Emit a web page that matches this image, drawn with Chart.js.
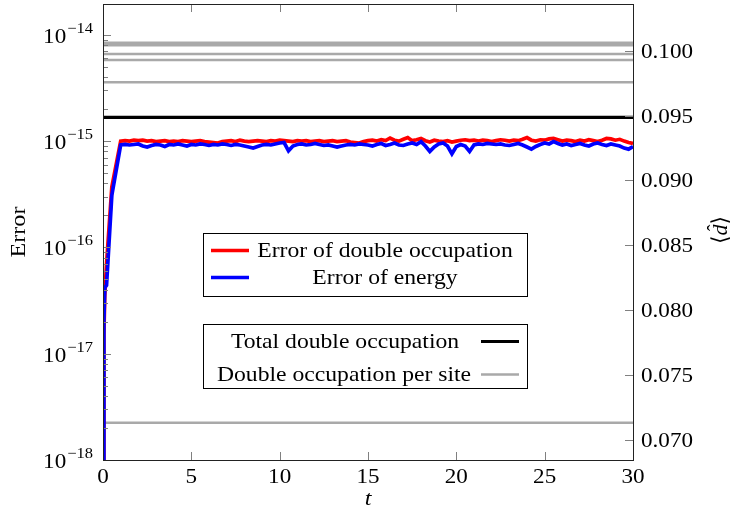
<!DOCTYPE html>
<html>
<head>
<meta charset="utf-8">
<script src="https://cdn.jsdelivr.net/npm/chart.js@4.4.1/dist/chart.umd.min.js"></script>
<style>
  html, body { margin: 0; padding: 0; background: #fff; }
  #wrap { width: 732px; height: 510px; position: relative; }
</style>
</head>
<body>
<div id="wrap"><canvas id="chart" width="732" height="510"></canvas></div>
<script>
// ---- data ----
// early rise, t and error values in units of 1e-15
const riseT = [0, 0.05, 0.1, 0.2, 0.5, 1.0];
const riseDouble = [0.0005, 0.015, 0.035, 0.07, 0.37, 1.0];
const riseEnergy = [0.0005, 0.02, 0.042, 0.044, 0.31, 0.92];

// plateau: t = 1.25, 1.5, ... 30 (step 0.25), units of 1e-15
const plateauStart = 1.25;
const plateauStep = 0.25;
const errDouble = [
  1.01, 1.00, 1.02, 1.01,  1.02, 1.00, 1.01, 0.99,  1.00, 1.01, 0.99, 1.00,
  0.99, 1.01, 1.00, 0.99,  1.00, 1.01, 0.99, 0.98,  0.97, 0.96, 0.99, 1.00,
  1.01, 0.99, 1.02, 1.00,  0.99, 1.00, 1.01, 1.00,  0.99, 1.01, 1.00, 1.02,
  1.01, 1.00, 0.99, 1.01,  1.00, 1.01, 0.99, 1.00,  1.01, 0.99, 1.00, 1.01,
  0.99, 1.00, 1.01, 0.98,  0.97, 0.96, 0.99, 1.01,  1.02, 1.00, 1.03, 1.01,
  1.07, 1.02, 1.00, 1.04,  1.08, 1.01, 1.03, 1.06,  1.01, 0.98, 1.02, 1.00,
  0.99, 1.01, 0.98, 1.00,  1.02, 1.03, 1.01, 1.02,  1.00, 1.02, 1.01, 0.99,
  1.01, 1.03, 1.02, 1.00,  1.02, 1.01, 1.04, 1.08,  1.02, 1.00, 1.03, 1.02,
  1.05, 1.06, 1.03, 1.00,  1.02, 1.01, 0.99, 1.02,  1.00, 1.03, 1.01, 0.99,
  1.02, 1.06, 1.05, 1.02,  1.04, 1.00, 0.97, 0.95
];
const errEnergy = [
  0.93, 0.92, 0.93, 0.94,  0.90, 0.88, 0.91, 0.93,  0.92, 0.89, 0.93, 0.92,
  0.94, 0.92, 0.90, 0.93,  0.92, 0.94, 0.93, 0.91,  0.93, 0.92, 0.94, 0.93,
  0.91, 0.93, 0.92, 0.90,  0.88, 0.86, 0.89, 0.92,  0.93, 0.92, 0.94, 0.96,
  0.97, 0.81, 0.90, 0.93,  0.94, 0.92, 0.93, 0.95,  0.93, 0.91, 0.92, 0.90,
  0.88, 0.90, 0.92, 0.93,  0.92, 0.94, 0.93, 0.92,  0.90, 0.93, 0.95, 0.91,
  0.93, 0.96, 0.92, 0.91,  0.94, 0.96, 0.93, 0.99,  0.90, 0.80, 0.88, 0.94,
  0.96, 0.90, 0.76, 0.89,  0.93, 0.90, 0.80, 0.92,  0.94, 0.93, 0.95, 0.94,
  0.93, 0.94, 0.92, 0.91,  0.93, 0.95, 0.92, 0.88,  0.84, 0.89, 0.93, 0.96,
  0.94, 0.99, 0.95, 0.92,  0.94, 0.91, 0.93, 0.95,  0.92, 0.90, 0.94, 0.96,
  0.93, 0.91, 0.94, 0.92,  0.90, 0.86, 0.84, 0.89
];

// double occupation (right axis)
const totalDouble = 0.09487;
const siteDouble = [0.10062, 0.10042, 0.09975, 0.09928, 0.09757, 0.07134];

// ticks
const xTicks = [0, 5, 10, 15, 20, 25, 30];
const leftExps = [-18, -17, -16, -15, -14];
const rightTicks = [0.070, 0.075, 0.080, 0.085, 0.090, 0.095, 0.100];

const FONT = '"Liberation Serif", "DejaVu Serif", serif';

function series(vals, rise) {
  const pts = rise.map((v, i) => ({ x: riseT[i], y: v * 1e-15 }));
  vals.forEach((v, i) => pts.push({ x: plateauStart + i * plateauStep, y: v * 1e-15 }));
  return pts;
}
function hline(v) {
  return [{ x: 0, y: v }, { x: 30, y: v }];
}

const datasets = [
  { label: 'Error of energy', data: series(errEnergy, riseEnergy), borderColor: '#0000ff', borderWidth: 3.7, yAxisID: 'y', order: 1 },
  { label: 'Error of double occupation', data: series(errDouble, riseDouble), borderColor: '#ff0000', borderWidth: 3.7, yAxisID: 'y', order: 2 },
  { label: 'Total double occupation', data: hline(totalDouble), borderColor: '#000000', borderWidth: 3.2, yAxisID: 'y2', order: 3 }
];
siteDouble.forEach((v, i) => datasets.push({
  label: 'site ' + (i + 1), data: hline(v), borderColor: '#a9a9a9', borderWidth: 2.5, yAxisID: 'y2', order: 4 + i
}));
datasets.forEach(d => { d.pointRadius = 0; d.tension = 0; d.fill = false; d.clip = 0; });

// text a bit wider than Times, closer to the Computer Modern look
function wtext(ctx, s, x, y, size, align, style) {
  ctx.save();
  ctx.font = (style ? style + ' ' : '') + size + 'px ' + FONT;
  const w = ctx.measureText(s).width * 1.1;
  let x0 = x;
  if (align === 'center') x0 = x - w / 2;
  else if (align === 'right') x0 = x - w;
  ctx.translate(x0, y);
  ctx.scale(1.1, 1);
  ctx.textAlign = 'left';
  ctx.fillText(s, 0, 0);
  ctx.restore();
  return w;
}

function drawPow(ctx, exp, right, cy) {
  const base = '10', sup = '\u2212' + Math.abs(exp);
  ctx.font = '15px ' + FONT;
  const ws = ctx.measureText(sup).width * 1.1;
  ctx.font = '21px ' + FONT;
  const wb = ctx.measureText(base).width * 1.1;
  const x0 = right - ws - wb - 1;
  wtext(ctx, base, x0, cy + 8, 21, 'left');
  wtext(ctx, sup, x0 + wb + 1, cy - 2, 15, 'left');
}

const decor = {
  id: 'decor',
  afterDraw(chart) {
    const { ctx, chartArea: a, scales } = chart;
    const sx = scales.x, sy = scales.y, sy2 = scales.y2;
    ctx.save();

    // ticks (inward)
    ctx.strokeStyle = '#808080';
    ctx.lineWidth = 1;
    ctx.beginPath();
    xTicks.forEach(t => {
      const px = Math.round(sx.getPixelForValue(t)) + 0.5;
      ctx.moveTo(px, a.bottom); ctx.lineTo(px, a.bottom - 8);
      ctx.moveTo(px, a.top); ctx.lineTo(px, a.top + 8);
    });
    leftExps.forEach(e => {
      for (let k = 1; k <= 9; k++) {
        const v = k * Math.pow(10, e);
        if (v > sy.max) break;
        const py = Math.round(sy.getPixelForValue(v)) + 0.5;
        ctx.moveTo(a.left, py); ctx.lineTo(a.left + (k === 1 ? 8 : 5), py);
      }
    });
    rightTicks.forEach(v => {
      const py = Math.round(sy2.getPixelForValue(v)) + 0.5;
      ctx.moveTo(a.right, py); ctx.lineTo(a.right - 8, py);
    });
    ctx.stroke();

    // frame
    ctx.strokeStyle = '#222';
    ctx.strokeRect(Math.round(a.left) + 0.5, Math.round(a.top) + 0.5,
      Math.round(a.right - a.left), Math.round(a.bottom - a.top));

    // tick labels
    ctx.fillStyle = '#000';
    ctx.textBaseline = 'alphabetic';
    xTicks.forEach(t => wtext(ctx, String(t), sx.getPixelForValue(t), 483, 21, 'center'));
    leftExps.forEach(e => drawPow(ctx, e, 93, sy.getPixelForValue(Math.pow(10, e))));
    rightTicks.forEach(v => wtext(ctx, v.toFixed(3), 641, sy2.getPixelForValue(v) + 7, 21, 'left'));

    // axis titles
    wtext(ctx, 't', sx.getPixelForValue(15), 505, 22, 'center', 'italic');

    ctx.save();
    ctx.translate(25, 232);
    ctx.rotate(-Math.PI / 2);
    wtext(ctx, 'Error', 0, 0, 22, 'center');
    ctx.restore();

    // right title: <d-hat>
    ctx.save();
    ctx.translate(727, 230);
    ctx.rotate(-Math.PI / 2);
    ctx.font = '22px ' + FONT;
    const lb = '\u27E8', rb = '\u27E9';
    const wl = ctx.measureText(lb).width, wr = ctx.measureText(rb).width;
    ctx.font = 'italic 22px ' + FONT;
    const wd = ctx.measureText('d').width;
    const xx = -(wl + wd + wr) / 2;
    ctx.textAlign = 'left';
    ctx.font = '22px ' + FONT;
    ctx.fillText(lb, xx, 0);
    ctx.font = 'italic 22px ' + FONT;
    ctx.fillText('d', xx + wl, 0);
    ctx.font = '20px ' + FONT;
    ctx.textAlign = 'center';
    ctx.fillText('\u02C6', xx + wl + wd / 2 + 2, -5);
    ctx.textAlign = 'left';
    ctx.font = '22px ' + FONT;
    ctx.fillText(rb, xx + wl + wd, 0);
    ctx.restore();

    // legend 1
    ctx.lineWidth = 1;
    ctx.fillStyle = '#fff';
    ctx.fillRect(203, 233, 324, 63);
    ctx.strokeStyle = '#000';
    ctx.strokeRect(203.5, 233.5, 324, 63);
    ctx.lineWidth = 3.5;
    ctx.strokeStyle = '#ff0000';
    ctx.beginPath(); ctx.moveTo(211, 250.5); ctx.lineTo(249, 250.5); ctx.stroke();
    ctx.strokeStyle = '#0000ff';
    ctx.beginPath(); ctx.moveTo(211, 277.5); ctx.lineTo(249, 277.5); ctx.stroke();
    ctx.fillStyle = '#000';
    wtext(ctx, 'Error of double occupation', 385, 257, 21.5, 'center');
    wtext(ctx, 'Error of energy', 385, 284, 21.5, 'center');

    // legend 2
    ctx.lineWidth = 1;
    ctx.fillStyle = '#fff';
    ctx.fillRect(203, 324, 324, 64);
    ctx.strokeStyle = '#000';
    ctx.strokeRect(203.5, 324.5, 324, 64);
    ctx.lineWidth = 3.2;
    ctx.strokeStyle = '#000';
    ctx.beginPath(); ctx.moveTo(481, 341.5); ctx.lineTo(519, 341.5); ctx.stroke();
    ctx.lineWidth = 2.5;
    ctx.strokeStyle = '#a9a9a9';
    ctx.beginPath(); ctx.moveTo(481, 374.5); ctx.lineTo(519, 374.5); ctx.stroke();
    ctx.fillStyle = '#000';
    wtext(ctx, 'Total double occupation', 345, 348, 21.5, 'center');
    wtext(ctx, 'Double occupation per site', 344, 381, 21.5, 'center');

    ctx.restore();
  }
};

new Chart(document.getElementById('chart'), {
  type: 'line',
  data: { datasets },
  options: {
    responsive: false,
    animation: false,
    layout: { padding: { left: 103, right: 99, top: 4, bottom: 50 } },
    plugins: { legend: { display: false }, tooltip: { enabled: false } },
    scales: {
      x: { type: 'linear', min: 0, max: 30, display: false },
      y: { type: 'logarithmic', min: 1e-18, max: 1.95e-14, display: false },
      y2: { type: 'linear', min: 0.06846, max: 0.1036, display: false, position: 'right' }
    }
  },
  plugins: [decor]
});
</script>
</body>
</html>
